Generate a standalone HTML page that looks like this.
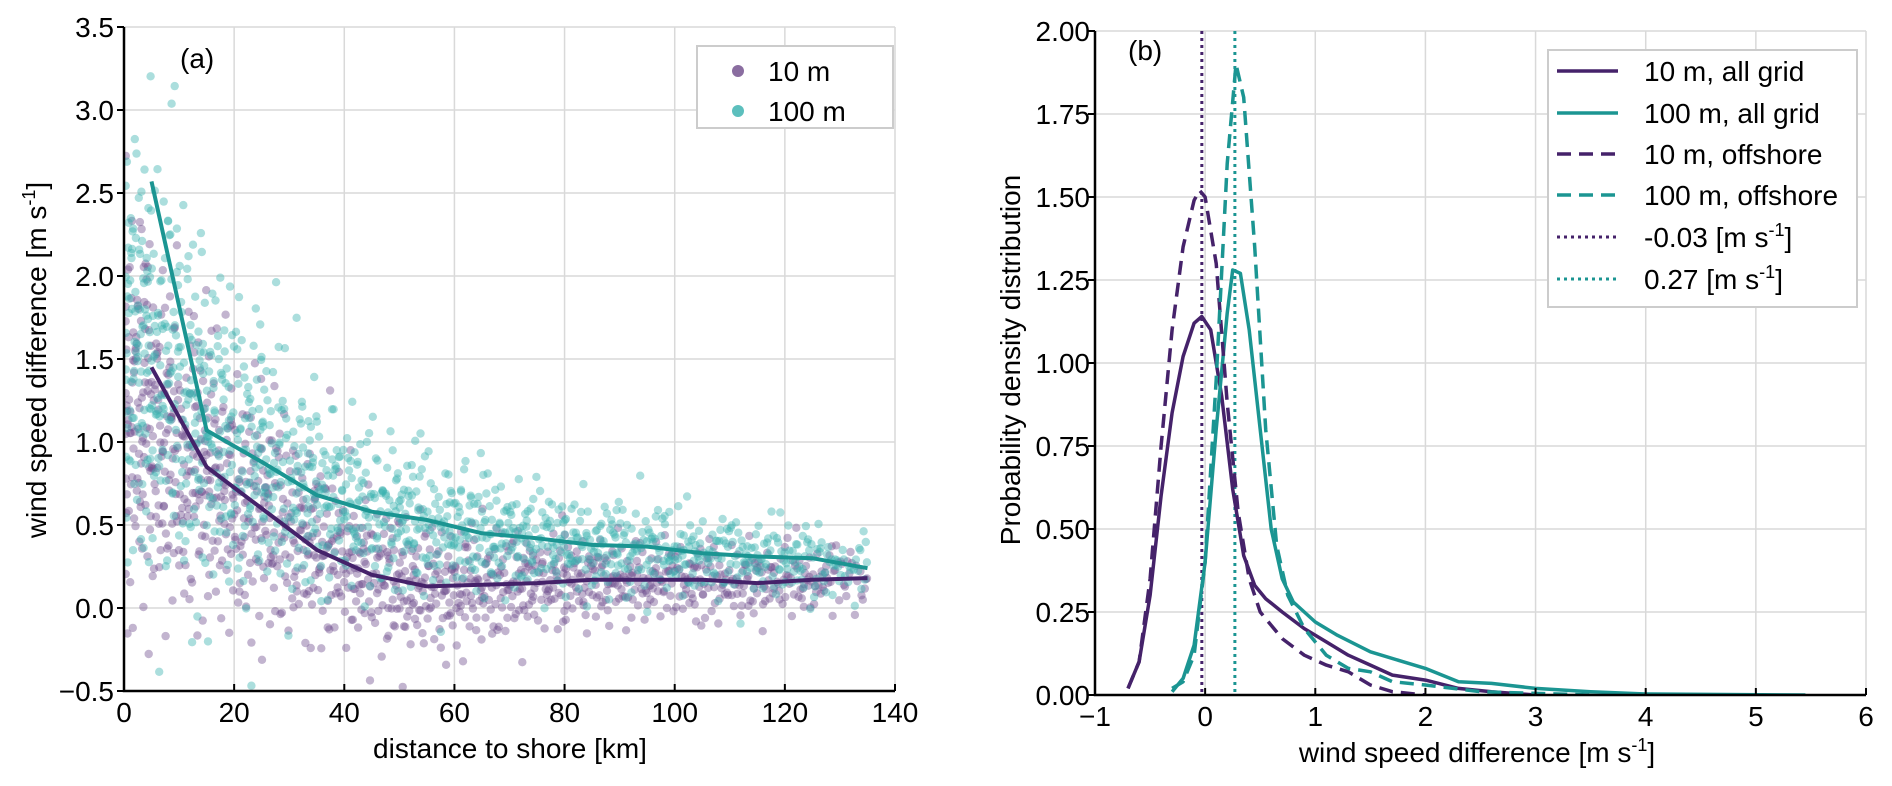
<!DOCTYPE html>
<html><head><meta charset="utf-8">
<style>
html,body{margin:0;padding:0;background:#fff;}
svg{display:block;font-family:"Liberation Sans",Arial,sans-serif;}
</style></head>
<body>
<svg id="fig" width="1892" height="786" viewBox="0 0 1892 786" xmlns="http://www.w3.org/2000/svg">
<defs>
<clipPath id="clipA"><rect x="124" y="27" width="771" height="664"/></clipPath>
<clipPath id="clipB"><rect x="1095" y="31" width="771" height="664"/></clipPath>
</defs>
<g id="panelA"></g>
<g id="panelB"></g>
</svg>
<script>
// ---------- Panel (a) data ----------
const binCenters = [2.5,7.5,12.5,17.5,22.5,27.5,32.5,37.5,42.5,47.5,52.5,57.5,62.5,67.5,72.5,77.5,82.5,87.5,92.5,97.5,102.5,107.5,112.5,117.5,122.5,127.5,132.5];
const binCount = [95,80,72,66,60,56,54,50,48,45,45,42,42,40,40,36,36,36,33,33,33,30,30,28,27,24,18];
const binMean10 = [1.2,1.0,0.85,0.75,0.62,0.52,0.42,0.33,0.24,0.18,0.13,0.12,0.13,0.14,0.15,0.16,0.17,0.17,0.17,0.17,0.17,0.16,0.15,0.16,0.17,0.18,0.18];
const binSd10 = [0.6,0.5,0.45,0.42,0.38,0.34,0.3,0.27,0.24,0.22,0.2,0.19,0.18,0.17,0.16,0.15,0.14,0.13,0.13,0.12,0.12,0.12,0.11,0.11,0.11,0.1,0.1];
const binMean100 = [1.6,1.45,1.2,1.05,0.95,0.85,0.75,0.67,0.6,0.57,0.54,0.5,0.47,0.45,0.42,0.4,0.38,0.37,0.36,0.35,0.33,0.32,0.31,0.3,0.29,0.27,0.25];
const binSd100 = [0.65,0.6,0.55,0.5,0.45,0.38,0.32,0.28,0.26,0.24,0.22,0.2,0.19,0.18,0.17,0.16,0.15,0.15,0.14,0.14,0.13,0.13,0.12,0.12,0.12,0.11,0.1];
const lineX = [5,15,25,35,45,55,65,75,85,95,105,115,125,135];
const line10 = [1.45,0.85,0.6,0.35,0.2,0.13,0.14,0.15,0.17,0.17,0.17,0.15,0.17,0.18];
const line100 = [2.57,1.07,0.88,0.68,0.58,0.53,0.45,0.42,0.38,0.37,0.33,0.31,0.30,0.24];
const xTicksA = [0,20,40,60,80,100,120,140];
const yTicksA = [-0.5,0.0,0.5,1.0,1.5,2.0,2.5,3.0,3.5];
const yTickLabelsA = ["\u22120.5","0.0","0.5","1.0","1.5","2.0","2.5","3.0","3.5"];

// ---------- Panel (b) data ----------
const pdf10allX = [-0.7,-0.6,-0.5,-0.4,-0.3,-0.2,-0.1,-0.03,0.05,0.15,0.25,0.35,0.45,0.55,0.7,0.9,1.1,1.3,1.5,1.7,2.0,2.3,2.6,3.0];
const pdf10allY = [0.02,0.1,0.3,0.6,0.85,1.02,1.12,1.14,1.1,0.9,0.62,0.42,0.33,0.29,0.25,0.2,0.16,0.12,0.09,0.06,0.045,0.02,0.01,0.0];
const pdf10offX = [-0.7,-0.6,-0.5,-0.4,-0.3,-0.2,-0.1,-0.05,0.0,0.1,0.2,0.3,0.4,0.5,0.7,0.9,1.1,1.3,1.5,1.7,2.0];
const pdf10offY = [0.02,0.1,0.35,0.75,1.1,1.35,1.49,1.52,1.5,1.3,0.88,0.55,0.35,0.25,0.17,0.12,0.09,0.07,0.03,0.01,0.0];
const pdf100allX = [-0.3,-0.2,-0.1,0.0,0.1,0.2,0.25,0.32,0.4,0.5,0.6,0.7,0.8,1.0,1.2,1.5,1.8,2.0,2.3,2.6,3.0,3.5,4.0,5.45];
const pdf100allY = [0.01,0.05,0.15,0.4,0.8,1.15,1.28,1.27,1.1,0.8,0.5,0.35,0.28,0.22,0.18,0.13,0.1,0.08,0.04,0.035,0.02,0.01,0.003,0.0];
const pdf100offX = [-0.3,-0.2,-0.1,0.0,0.1,0.2,0.28,0.35,0.45,0.55,0.65,0.75,0.9,1.1,1.3,1.5,1.7,2.0,2.5,3.5];
const pdf100offY = [0.02,0.04,0.12,0.4,0.95,1.6,1.9,1.8,1.35,0.8,0.45,0.3,0.2,0.12,0.08,0.07,0.04,0.03,0.01,0.0];
const median10 = -0.03;
const median100 = 0.27;
const xTicksB = [-1,0,1,2,3,4,5,6];
const xTickLabelsB = ["\u22121","0","1","2","3","4","5","6"];
const yTicksB = [0,0.25,0.5,0.75,1.0,1.25,1.5,1.75,2.0];
const yTickLabelsB = ["0.00","0.25","0.50","0.75","1.00","1.25","1.50","1.75","2.00"];

const NS = "http://www.w3.org/2000/svg";
const PURPLE = "#45226a", TEAL = "#1b9592";
const FS = 28;
function mk(tag, attrs, parent, text){
  const e = document.createElementNS(NS, tag);
  for (const k in attrs) e.setAttribute(k, attrs[k]);
  if (text !== undefined) e.textContent = text;
  parent.appendChild(e); return e;
}
const ax = v => 124 + (v/140)*771;
const ay = v => 691 - ((v+0.5)/4.0)*664;
const bx = v => 1095 + ((v+1)/7)*771;
const by = v => 695 - (v/2.0)*664;

// ---------- Panel A ----------
const A = document.getElementById('panelA');
for (const t of xTicksA){ if(t>0){ const g=mk('line',{x1:ax(t),x2:ax(t),y1:27,y2:691,stroke:'#d9d9d9','stroke-width':1.5},A);
 }}
for (const t of yTicksA){ if(t>-0.5){ const g=mk('line',{x1:124,x2:895,y1:ay(t),y2:ay(t),stroke:'#d9d9d9','stroke-width':1.5},A);
 }}

const scat = mk('g',{'clip-path':'url(#clipA)'},A);
 
function qs(i,b){ let f=1,r=0; while(i>0){ f/=b; r+=f*(i%b); i=Math.floor(i/b);} return r; }
function drawScatter(means, sds, color, op, seed){
  let k = seed;
  binCenters.forEach((c,bi)=>{
    for(let j=0;j<binCount[bi];j++){
      k++;
      const u1 = Math.max(qs(k,2),1e-3), u2 = qs(k,3), u3 = qs(k,5);
      const z = Math.sqrt(-2*Math.log(u1))*Math.cos(2*Math.PI*u2);
      const xv = c - 2.5 + 5*u3;
      const yv = means[bi] + sds[bi]*z;
      const p = mk('circle',{cx:ax(Math.max(0.3,xv)).toFixed(1),cy:ay(yv).toFixed(1),r:4.2,fill:color,'fill-opacity':op},scat);
      
      
    }
  });
}
drawScatter(binMean10, binSd10, '#6e4d8c', 0.42, 7);
drawScatter(binMean100, binSd100, '#38b0ae', 0.42, 3001);

function poly(xs, ys, fx, fy){ return xs.map((x,i)=>fx(x).toFixed(1)+','+fy(ys[i]).toFixed(1)).join(' '); }
const l10 = mk('polyline',{points:poly(lineX,line10,ax,ay),fill:'none',stroke:PURPLE,'stroke-width':4,'stroke-linejoin':'round'},A);
 
const l100 = mk('polyline',{points:poly(lineX,line100,ax,ay),fill:'none',stroke:TEAL,'stroke-width':4,'stroke-linejoin':'round'},A);
 

const spA = mk('path',{d:'M124,27 V691 H895',fill:'none',stroke:'#000','stroke-width':2.5},A);
 
xTicksA.forEach(t=>{
  mk('line',{x1:ax(t),x2:ax(t),y1:691,y2:684,stroke:'#000','stroke-width':2},A);
  const tl = mk('text',{x:ax(t),y:722,'font-size':FS,'text-anchor':'middle'},A,String(t));
   
});
yTicksA.forEach((t,i)=>{
  mk('line',{x1:117,x2:124,y1:ay(t),y2:ay(t),stroke:'#000','stroke-width':2},A);
  const tl = mk('text',{x:114,y:ay(t)+10,'font-size':FS,'text-anchor':'end'},A,yTickLabelsA[i]);
   
});
const xtA = mk('text',{x:510,y:758,'font-size':FS,'text-anchor':'middle'},A,'distance to shore [km]');
 
const ytA = mk('text',{x:0,y:0,'font-size':FS,'text-anchor':'middle',transform:'translate(46,360) rotate(-90)'},A);
 
ytA.innerHTML = 'wind speed difference [m s<tspan dy="-11" font-size="18">-1</tspan><tspan dy="11">]</tspan>';
const pa = mk('text',{x:180,y:68,'font-size':FS},A,'(a)');
 

const legA = mk('g',{},A);
 
mk('rect',{x:697,y:46,width:196,height:82,fill:'#fff',stroke:'#ccc','stroke-width':2},legA);
[['10 m','#8a6da0',71],['100 m','#5cbfbd',111]].forEach(([lab,col,y])=>{
  const e = mk('g',{},legA);
   
  mk('circle',{cx:738,cy:y,r:6,fill:col},e);
  mk('text',{x:768,y:y+10,'font-size':FS},e,lab);
});

// ---------- Panel B ----------
const B = document.getElementById('panelB');
xTicksB.forEach(t=>{ if(t>-1){ const g=mk('line',{x1:bx(t),x2:bx(t),y1:31,y2:695,stroke:'#d9d9d9','stroke-width':1.5},B);
 }});
yTicksB.forEach(t=>{ if(t>0){ const g=mk('line',{x1:1095,x2:1866,y1:by(t),y2:by(t),stroke:'#d9d9d9','stroke-width':1.5},B);
 }});

const cb = mk('g',{'clip-path':'url(#clipB)'},B);
const m1 = mk('line',{x1:bx(median10),x2:bx(median10),y1:31,y2:695,stroke:PURPLE,'stroke-width':3,'stroke-dasharray':'3,4'},cb);
 
const m2 = mk('line',{x1:bx(median100),x2:bx(median100),y1:31,y2:695,stroke:TEAL,'stroke-width':3,'stroke-dasharray':'3,4'},cb);
 

function curve(xs,ys,col,dash,name){
  const a = {points:poly(xs,ys,bx,by),fill:'none',stroke:col,'stroke-width':3.5,'stroke-linejoin':'round'};
  if(dash) a['stroke-dasharray']='14,8';
  const p = mk('polyline',a,cb);
  
  
}
curve(pdf10allX,pdf10allY,PURPLE,false,'pdf-10m-all-grid');
curve(pdf100allX,pdf100allY,TEAL,false,'pdf-100m-all-grid');
curve(pdf10offX,pdf10offY,PURPLE,true,'pdf-10m-offshore');
curve(pdf100offX,pdf100offY,TEAL,true,'pdf-100m-offshore');

const spB = mk('path',{d:'M1095,31 V695 H1866',fill:'none',stroke:'#000','stroke-width':2.5},B);
 
xTicksB.forEach((t,i)=>{
  mk('line',{x1:bx(t),x2:bx(t),y1:695,y2:688,stroke:'#000','stroke-width':2},B);
  const tl = mk('text',{x:bx(t),y:726,'font-size':FS,'text-anchor':'middle'},B,xTickLabelsB[i]);
   
});
yTicksB.forEach((t,i)=>{
  mk('line',{x1:1088,x2:1095,y1:by(t),y2:by(t),stroke:'#000','stroke-width':2},B);
  const tl = mk('text',{x:1090,y:by(t)+10,'font-size':FS,'text-anchor':'end'},B,yTickLabelsB[i]);
   
});
const xtB = mk('text',{x:1477,y:762,'font-size':FS,'text-anchor':'middle'},B);
 
xtB.innerHTML = 'wind speed difference [m s<tspan dy="-11" font-size="18">-1</tspan><tspan dy="11">]</tspan>';
const ytB = mk('text',{x:0,y:0,'font-size':FS,'text-anchor':'middle',transform:'translate(1020,360) rotate(-90)'},B,'Probability density distribution');
 
const pb = mk('text',{x:1128,y:60,'font-size':FS},B,'(b)');
 

const legB = mk('g',{},B);
 
mk('rect',{x:1548,y:50,width:309,height:257,fill:'#fff',stroke:'#ccc','stroke-width':2},legB);
const legItems = [
  ['10 m, all grid',PURPLE,null,71],
  ['100 m, all grid',TEAL,null,113],
  ['10 m, offshore',PURPLE,'14,8',154],
  ['100 m, offshore',TEAL,'14,8',195],
  ['-0.03 [m s',PURPLE,'3,4',237],
  ['0.27 [m s',TEAL,'3,4',279]
];
legItems.forEach(([lab,col,dash,y],i)=>{
  const e = mk('g',{},legB);
  
  
  const a = {x1:1557,x2:1618,y1:y,y2:y,stroke:col,'stroke-width':dash==='3,4'?3:3.5};
  if(dash) a['stroke-dasharray']=dash;
  mk('line',a,e);
  const t = mk('text',{x:1644,y:y+10,'font-size':FS},e,lab);
  if(i>=4){ t.innerHTML = lab + '<tspan dy="-11" font-size="18">-1</tspan><tspan dy="11">]</tspan>'; }
});
</script>
</body></html>
